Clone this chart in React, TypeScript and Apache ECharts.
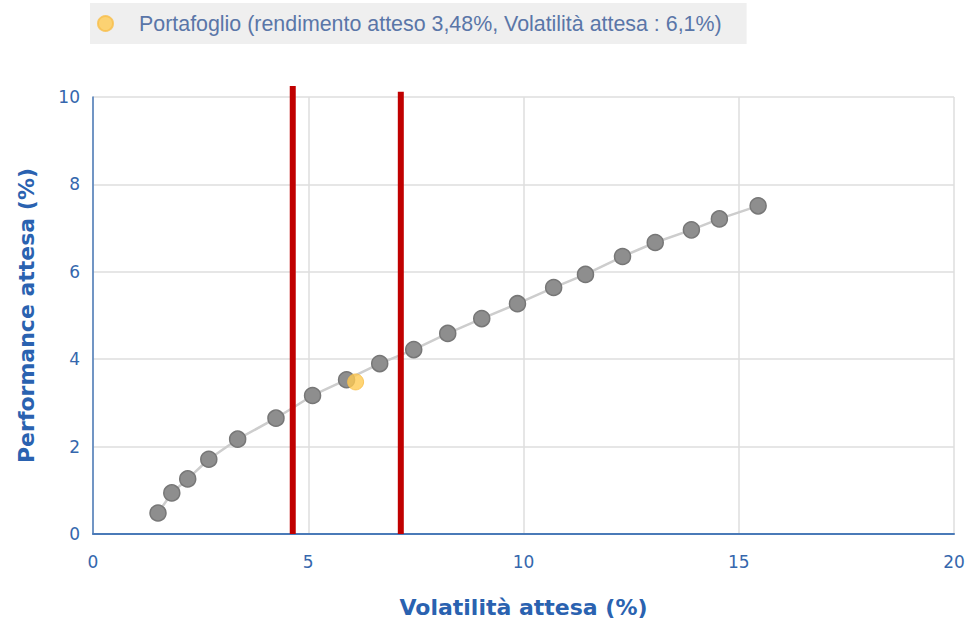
import React, { useEffect, useRef } from "react";
import * as echarts from "echarts";

const frontierVol = [1.51, 1.83, 2.2, 2.69, 3.36, 4.25, 5.1, 5.89, 6.66, 7.45, 8.24, 9.03, 9.86, 10.7, 11.44, 12.3, 13.06, 13.9, 14.55, 15.45];
const frontierRet = [0.48, 0.94, 1.26, 1.71, 2.17, 2.65, 3.17, 3.53, 3.9, 4.22, 4.59, 4.93, 5.27, 5.64, 5.94, 6.35, 6.67, 6.96, 7.21, 7.51];
const portfolioVol = 6.1;
const portfolioRet = 3.48;
const limitVols = [4.64, 7.15];
const limitTops = [10.25, 10.12];
const legendLabel = "Portafoglio (rendimento atteso 3,48%, Volatilità attesa : 6,1%)";
const xTitle = "Volatilità attesa (%)";
const yTitle = "Performance attesa (%)";

export default function App() {
  const ref = useRef<HTMLDivElement>(null);
  useEffect(() => {
    if (!ref.current) return;
    const chart = echarts.init(ref.current, undefined, { renderer: "svg" });
    const blue = "#3567ad";
    const frontier = frontierVol.map((v, i) => [v, frontierRet[i]]);
    const limitSeries = limitVols.map((v, i) => ({
      name: "limite" + i,
      type: "line",
      data: [[v, 0], [v, limitTops[i]]],
      clip: false,
      symbol: "none",
      silent: true,
      z: 10,
      lineStyle: { color: "#c00000", width: 6 },
    }));
    chart.setOption({
      animation: false,
      legend: {
        data: [legendLabel],
        left: 90,
        top: 3,
        padding: [10, 25, 10, 7],
        backgroundColor: "#efefef",
        itemWidth: 15,
        itemHeight: 15,
        textStyle: { color: "#5a76a8", fontSize: 21.4, fontFamily: "Liberation Sans", padding: [0, 0, 0, 21] },
      },
      grid: { left: 93, top: 97, width: 861, height: 437, containLabel: false, outerBoundsMode: "none" },
      xAxis: {
        type: "value",
        min: 0,
        max: 20,
        interval: 5,
        name: xTitle,
        nameLocation: "middle",
        nameGap: 62,
        nameTextStyle: { color: "#2a62b0", fontSize: 22, fontWeight: "bold", fontFamily: "DejaVu Sans" },
        axisLine: { show: true, lineStyle: { color: "#4a7ab8", width: 2 } },
        axisTick: { show: false },
        axisLabel: { color: blue, fontSize: 17, fontFamily: "DejaVu Sans", margin: 19 },
        splitLine: { show: true, lineStyle: { color: "#dedede", width: 1.5 } },
      },
      yAxis: {
        type: "value",
        min: 0,
        max: 10,
        interval: 2,
        name: yTitle,
        nameLocation: "middle",
        nameGap: 56,
        nameTextStyle: { color: "#2a62b0", fontSize: 22, fontWeight: "bold", fontFamily: "DejaVu Sans" },
        axisLine: { show: true, lineStyle: { color: "#4a7ab8", width: 1.5 } },
        axisTick: { show: false },
        axisLabel: { color: blue, fontSize: 17, fontFamily: "DejaVu Sans", margin: 13 },
        splitLine: { show: true, lineStyle: { color: "#dedede", width: 1.5 } },
      },
      series: [
        {
          name: "Frontiera",
          type: "line",
          data: frontier,
          symbol: "circle",
          symbolSize: 16,
          z: 3,
          itemStyle: { color: "#8e8e8e", borderColor: "#777777", borderWidth: 1.5 },
          lineStyle: { color: "#cdcdcd", width: 2.5 },
        },
        {
          name: legendLabel,
          type: "scatter",
          data: [[portfolioVol, portfolioRet]],
          symbol: "circle",
          symbolSize: 16,
          z: 4,
          itemStyle: { color: "#ffca52", borderColor: "#f7be4a", borderWidth: 1 },
        },
        ...limitSeries,
      ],
    });
    return () => chart.dispose();
  }, []);
  return <div ref={ref} style={{ width: 969, height: 622, position: "absolute", left: 0, top: 0 }} />;
}
